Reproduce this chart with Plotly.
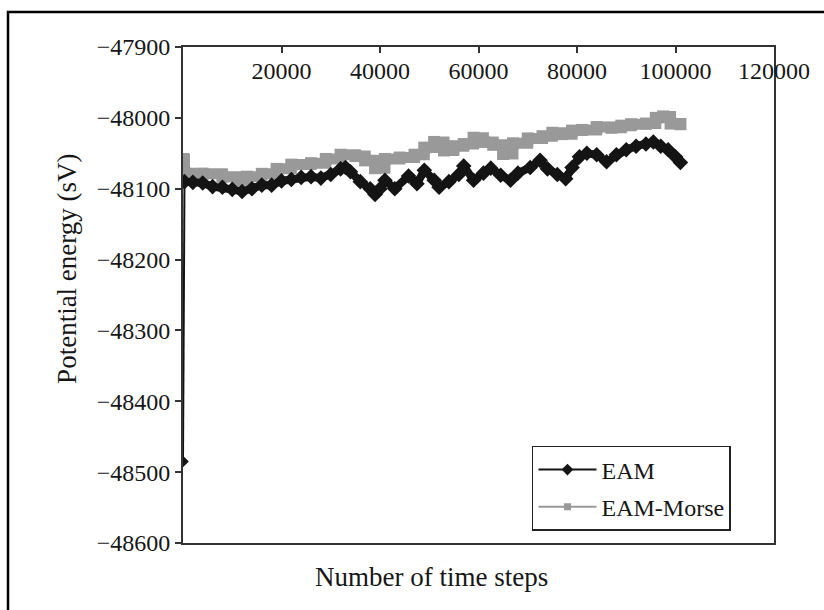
import plotly.graph_objects as go

# Potential energy versus number of time steps for two interatomic potentials
eam_steps = [0, 300, 2000, 4000, 6000, 8000, 10000, 12000, 14000, 16000, 18000,
             20000, 22000, 24000, 26000, 28000, 30000, 32000, 33000, 34000, 36000,
             38000, 39000, 40000, 41000, 43000, 45800, 47500, 49000, 51000, 52000,
             54000, 56000, 57000, 59000, 61000, 62500, 64500, 66500, 68000, 70500,
             72500, 74000, 76000, 77700, 79000, 80500, 82000, 84000, 86000, 88000,
             90000, 92000, 94000, 95500, 97000, 98500, 100000, 101000]
eam_energy = [-48485, -48090, -48091, -48092, -48097, -48098, -48101, -48104, -48100, -48095, -48095,
              -48089, -48087, -48084, -48083, -48085, -48080, -48072, -48070, -48076, -48090,
              -48100, -48108, -48100, -48088, -48100, -48082, -48093, -48074, -48088, -48098,
              -48090, -48080, -48068, -48088, -48078, -48071, -48081, -48088, -48078, -48070,
              -48060, -48072, -48080, -48086, -48070, -48055, -48050, -48052, -48062, -48052,
              -48045, -48040, -48037, -48034, -48040, -48045, -48055, -48063]

morse_steps = [0, 300, 4000, 8000, 11000, 13000, 16000, 19000, 22000, 26000, 29000,
               32000, 35000, 37000, 39000, 41000, 44000, 47000, 49000, 51000, 53000,
               55000, 57000, 59000, 61000, 63000, 65000, 67000, 70000, 73000, 75000,
               77000, 79000, 81000, 84000, 87000, 89000, 91000, 94000, 96000, 97500,
               99000, 101000]
morse_energy = [-48058, -48078, -48079, -48083, -48088, -48083, -48079, -48072, -48066, -48064, -48058,
                -48052, -48054, -48060, -48071, -48058, -48056, -48052, -48042, -48034, -48046,
                -48040, -48037, -48028, -48034, -48038, -48051, -48036, -48029, -48026, -48021,
                -48023, -48018, -48017, -48013, -48014, -48011, -48009, -48008, -48000, -47998,
                -48008, -48009]

x_ticks = [20000, 40000, 60000, 80000, 100000, 120000]
x_labels = ["20000", "40000", "60000", "80000", "100000", "120000"]
y_ticks = [-47900, -48000, -48100, -48200, -48300, -48400, -48500, -48600]
y_labels = ["\u221247900", "\u221248000", "\u221248100", "\u221248200",
            "\u221248300", "\u221248400", "\u221248500", "\u221248600"]

series_names = ["EAM", "EAM-Morse"]
BLACK = "#141414"
GREY = "#999999"
TEXT = "#161616"
FONT = "Liberation Serif"

fig = go.Figure()

# Dense, overlapping markers make each series read as a thick band
fig.add_trace(go.Scatter(
    x=morse_steps, y=morse_energy, mode="lines+markers", name=series_names[1],
    line=dict(color=GREY, width=11, shape="hv"),
    marker=dict(symbol="square", size=12, color=GREY),
    showlegend=False,
))
# Initial jump of the EAM run, drawn with a thin line
fig.add_trace(go.Scatter(
    x=eam_steps[:2], y=eam_energy[:2], mode="lines+markers", name=series_names[0],
    line=dict(color=BLACK, width=2),
    marker=dict(symbol="diamond", size=9, color=BLACK),
    showlegend=False,
))
fig.add_trace(go.Scatter(
    x=eam_steps[1:], y=eam_energy[1:], mode="lines+markers", name=series_names[0],
    line=dict(color=BLACK, width=8),
    marker=dict(symbol="diamond", size=12, color=BLACK),
    showlegend=False,
))

# Legend keys drawn with thin lines and small markers
fig.add_trace(go.Scatter(
    x=[None], y=[None], mode="lines+markers", name=series_names[0],
    line=dict(color=BLACK, width=2),
    marker=dict(symbol="diamond", size=9, color=BLACK),
    legendgroup="a",
))
fig.add_trace(go.Scatter(
    x=[None], y=[None], mode="lines+markers", name=series_names[1],
    line=dict(color=GREY, width=2),
    marker=dict(symbol="square", size=7, color=GREY),
    legendgroup="b",
))

fig.update_layout(
    width=824, height=610,
    margin=dict(l=183, r=50, t=47, b=67),
    paper_bgcolor="white", plot_bgcolor="white",
    font=dict(family=FONT, size=24, color=TEXT),
    showlegend=True,
    legend=dict(
        x=0.5905, y=0.1956, xanchor="left", yanchor="top",
        bordercolor="#222222", borderwidth=1.5, bgcolor="white",
        font=dict(family=FONT, size=24, color=TEXT),
        itemwidth=58, tracegroupgap=3,
    ),
    xaxis=dict(
        range=[0, 120000], side="top",
        tickvals=x_ticks, ticktext=x_labels,
        ticks="inside", ticklen=6, tickwidth=1.5, tickcolor="#333333",
        ticklabelposition="inside", ticklabeloverflow="allow", ticklabelstandoff=11,
        showline=True, mirror=True, linewidth=2, linecolor="#333333",
        showgrid=False, zeroline=False,
        tickfont=dict(family=FONT, size=24, color=TEXT),
    ),
    yaxis=dict(
        range=[-48600, -47900],
        tickvals=y_ticks, ticktext=y_labels,
        ticks="outside", ticklen=6, tickwidth=1.5, tickcolor="#333333",
        showline=True, mirror=True, linewidth=2, linecolor="#333333",
        showgrid=False, zeroline=False,
        tickfont=dict(family=FONT, size=24, color=TEXT),
    ),
    annotations=[
        dict(text="Number of time steps", xref="paper", yref="paper",
             x=0.42, y=-0.0685, xanchor="center", yanchor="middle", showarrow=False,
             font=dict(family=FONT, size=27, color=TEXT)),
        dict(text="Potential energy (sV)", xref="paper", yref="paper",
             x=-0.196, y=0.553, xanchor="center", yanchor="middle", showarrow=False,
             textangle=-90, font=dict(family=FONT, size=27, color=TEXT)),
    ],
    shapes=[
        dict(type="rect", xref="paper", yref="paper",
             x0=-0.2961, x1=1.095, y0=-0.3, y1=1.0706,
             line=dict(color="black", width=2.5), layer="below"),
    ],
)

fig.write_html("out.html")
